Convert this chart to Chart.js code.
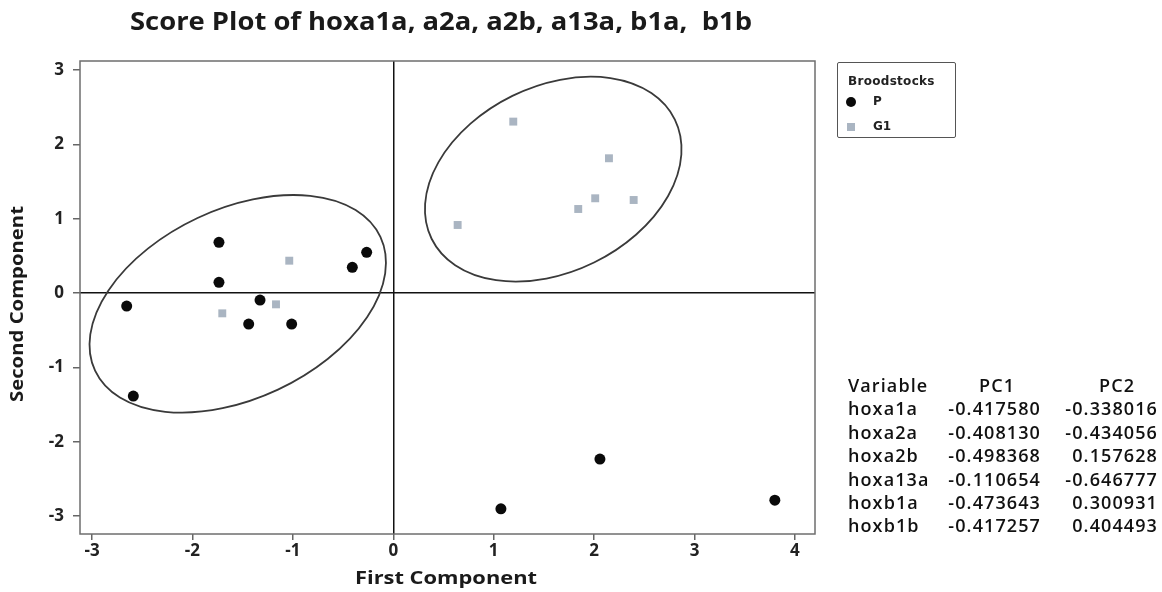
<!DOCTYPE html>
<html>
<head>
<meta charset="utf-8">
<script src="https://cdn.jsdelivr.net/npm/chart.js@4.4.1/dist/chart.umd.min.js"></script>
<style>
  body { margin: 0; background: #fff; }
  #wrap { position: relative; width: 1162px; height: 592px; overflow: hidden; }
  #chart { position: absolute; left: 0; top: 0; }
  .legend { position: absolute; left: 837px; top: 62px; width: 119px; height: 76px;
    border: 1.5px solid #555; border-radius: 2px; box-sizing: border-box;
    font-family: "DejaVu Sans", sans-serif; color: #222; }
  .legend .head { position: absolute; left: 10px; top: 11px; font-size: 12px; font-weight: bold; letter-spacing: 0.3px; }
  .legend .item { position: absolute; left: 35px; font-size: 12px; font-weight: bold; }
  .legend .mk { position: absolute; }
  .cell { position: absolute; font-family: "Open Sans", sans-serif; font-size: 18px; font-weight: 600;
    color: #111; letter-spacing: 1.1px; line-height: 20px; white-space: nowrap; }
</style>
</head>
<body>
<div id="wrap">
  <canvas id="chart" width="1162" height="592"></canvas>
  <div class="legend" id="legend"></div>
  <div id="table"></div>
</div>
<script>
// score values
const pX = [-2.655, -2.589, -1.736, -1.736, -1.327, -1.440, -1.012, -0.408, -0.265, 1.072, 2.058, 3.800];
const pY = [-0.175, -1.386, 0.682, 0.144, -0.094, -0.417, -0.417, 0.346, 0.548, -2.902, -2.233, -2.785];
const g1X = [-1.036, -1.168, -1.703, 1.195, 2.148, 2.011, 1.842, 2.394, 0.641];
const g1Y = [0.435, -0.152, -0.273, 2.305, 1.812, 1.274, 1.130, 1.251, 0.915];

const xTicks = [-3, -2, -1, 0, 1, 2, 3, 4];
const yTicks = [-3, -2, -1, 0, 1, 2, 3];

// group ellipses: centre, radii (x units), tilt (deg)
const ellipseCX = [-1.549, 1.593];
const ellipseCY = [-0.145, 1.531];
const ellipseRX = [1.569, 1.349];
const ellipseRY = [0.944, 0.924];
const ellipseTilt = [-25.1, -26.1];

// loadings table
const variables = ["hoxa1a", "hoxa2a", "hoxa2b", "hoxa13a", "hoxb1a", "hoxb1b"];
const pc1 = ["-0.417580", "-0.408130", "-0.498368", "-0.110654", "-0.473643", "-0.417257"];
const pc2 = ["-0.338016", "-0.434056", "0.157628", "-0.646777", "0.300931", "0.404493"];

const toPoints = (xs, ys) => xs.map((v, i) => ({ x: v, y: ys[i] }));

const ellipses = {
  id: "ellipses",
  beforeDatasetsDraw(chart) {
    const { ctx, scales: { x, y } } = chart;
    const unit = x.getPixelForValue(1) - x.getPixelForValue(0);
    ctx.save();
    ctx.strokeStyle = "#3a3a3a";
    ctx.lineWidth = 1.8;
    ellipseCX.forEach((cx, i) => {
      ctx.beginPath();
      ctx.ellipse(x.getPixelForValue(cx), y.getPixelForValue(ellipseCY[i]),
        ellipseRX[i] * unit, ellipseRY[i] * unit, ellipseTilt[i] * Math.PI / 180, 0, Math.PI * 2);
      ctx.stroke();
    });
    ctx.restore();
  }
};

function fitText(ctx, text, cx, cy, width, font, rotate) {
  ctx.save();
  ctx.font = font;
  const w = ctx.measureText(text).width;
  ctx.translate(cx, cy);
  if (rotate) ctx.rotate(-Math.PI / 2);
  ctx.scale(width / w, 1);
  ctx.textAlign = "center";
  ctx.textBaseline = "middle";
  ctx.fillText(text, 0, 0);
  ctx.restore();
}

const frame = {
  id: "frame",
  afterDraw(chart) {
    const { ctx, chartArea: a } = chart;
    ctx.save();
    ctx.strokeStyle = "#6e6e6e";
    ctx.lineWidth = 1.5;
    ctx.strokeRect(a.left, a.top, a.right - a.left, a.bottom - a.top);
    ctx.fillStyle = "#1a1a1a";
    fitText(ctx, "Score Plot of hoxa1a, a2a, a2b, a13a, b1a,  b1b", 441, 23, 622, "bold 25px 'Open Sans'");
    fitText(ctx, "First Component", 446, 579, 182, "bold 18px 'Open Sans'");
    fitText(ctx, "Second Component", 18, 304, 196, "bold 18px 'Open Sans'", true);
    ctx.restore();
  }
};

const tickFont = { family: "'Open Sans'", size: 17, weight: "bold" };

new Chart(document.getElementById("chart"), {
  type: "scatter",
  data: {
    datasets: [
      {
        label: "P",
        data: toPoints(pX, pY),
        pointStyle: "circle",
        pointRadius: 5.5,
        pointHoverRadius: 5.5,
        backgroundColor: "#0a0a0a",
        borderColor: "#0a0a0a",
        borderWidth: 0
      },
      {
        label: "G1",
        data: toPoints(g1X, g1Y),
        pointStyle: "rect",
        pointRadius: 5.6,
        pointHoverRadius: 5.6,
        backgroundColor: "#aab5c2",
        borderColor: "#aab5c2",
        borderWidth: 0
      }
    ]
  },
  options: {
    responsive: false,
    animation: false,
    layout: { padding: { top: 61, right: 347, bottom: 0, left: 0 } },
    plugins: { legend: { display: false }, title: { display: false }, tooltip: { enabled: false } },
    scales: {
      x: {
        type: "linear",
        min: -3.12,
        max: 4.2,
        afterBuildTicks: (s) => { s.ticks = xTicks.map((v) => ({ value: v })); },
        afterFit: (s) => { s.height = 58; },
        border: { display: false },
        grid: {
          color: (c) => (c.tick && c.tick.value === 0 ? "#111" : "rgba(0,0,0,0)"),
          lineWidth: 1.5,
          tickColor: "#666",
          tickLength: 6
        },
        ticks: { font: tickFont, color: "#222", padding: 1, maxRotation: 0 }
      },
      y: {
        type: "linear",
        min: -3.24,
        max: 3.12,
        afterBuildTicks: (s) => { s.ticks = yTicks.map((v) => ({ value: v })); },
        afterFit: (s) => { s.width = 80; },
        border: { display: false },
        grid: {
          color: (c) => (c.tick && c.tick.value === 0 ? "#111" : "rgba(0,0,0,0)"),
          lineWidth: 1.5,
          tickColor: "#666",
          tickLength: 7
        },
        ticks: { font: tickFont, color: "#222", padding: 9 }
      }
    }
  },
  plugins: [ellipses, frame]
});

// legend box
const legend = document.getElementById("legend");
legend.innerHTML =
  '<div class="head">Broodstocks</div>' +
  '<div class="mk" style="left:8px;top:34px;width:10px;height:10px;border-radius:50%;background:#0a0a0a"></div>' +
  '<div class="item" style="top:31px">P</div>' +
  '<div class="mk" style="left:9px;top:60px;width:8px;height:8px;background:#aab5c2"></div>' +
  '<div class="item" style="top:56px">G1</div>';

// loadings table
const table = document.getElementById("table");
const rowTop = 375, rowStep = 23.4;
let html = '<div class="cell" style="left:848px;top:' + rowTop + 'px">Variable</div>' +
  '<div class="cell" style="left:997px;top:' + rowTop + 'px;transform:translateX(-50%)">PC1</div>' +
  '<div class="cell" style="left:1117px;top:' + rowTop + 'px;transform:translateX(-50%)">PC2</div>';
variables.forEach((v, i) => {
  const t = rowTop + rowStep * (i + 1);
  html += '<div class="cell" style="left:848px;top:' + t + 'px">' + v + '</div>' +
    '<div class="cell" style="right:' + (1162 - 1041) + 'px;top:' + t + 'px">' + pc1[i] + '</div>' +
    '<div class="cell" style="right:' + (1162 - 1158) + 'px;top:' + t + 'px">' + pc2[i] + '</div>';
});
table.innerHTML = html;
</script>
</body>
</html>
